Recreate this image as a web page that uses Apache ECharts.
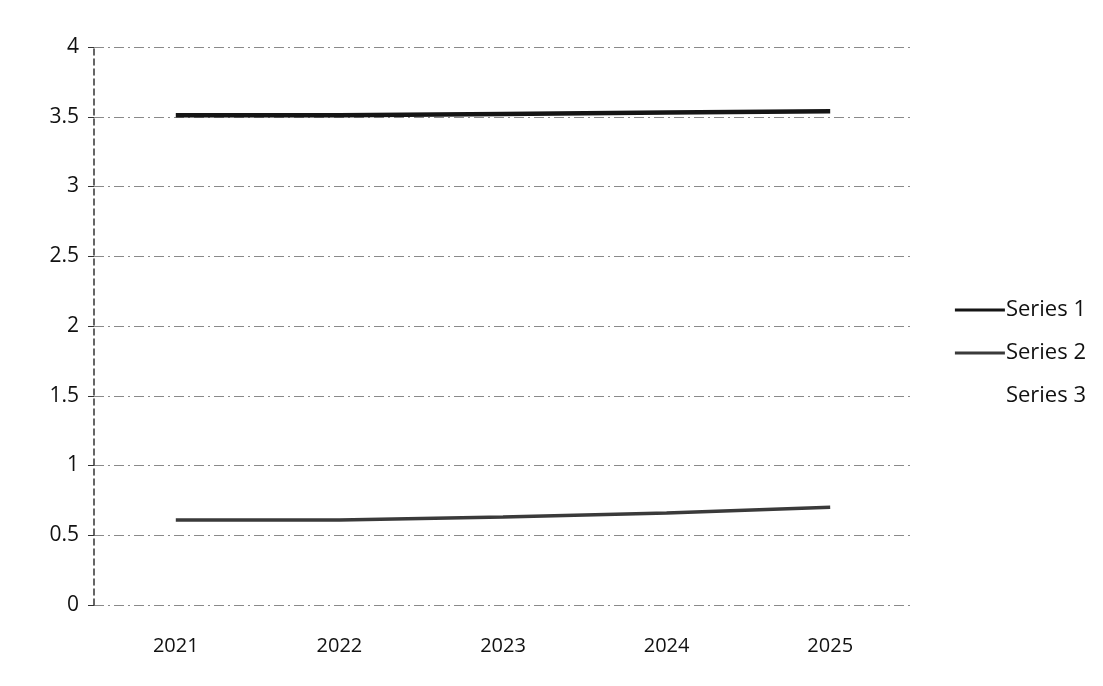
<!DOCTYPE html>
<html>
<head>
<meta charset="utf-8">
<script src="https://cdn.jsdelivr.net/npm/echarts@6/dist/echarts.min.js"></script>
<style>
html,body{margin:0;padding:0;background:#fff;}
#c{width:1103px;height:686px;}
</style>
</head>
<body>
<div id="c"></div>
<script>
const categories = ['2021', '2022', '2023', '2024', '2025'];
const series1 = [3.51, 3.51, 3.52, 3.53, 3.54];
const series2 = [0.61, 0.61, 0.63, 0.66, 0.70];
const series3 = [null, null, null, null, null];
const yTicks = [0, 0.5, 1, 1.5, 2, 2.5, 3, 3.5, 4];

const chart = echarts.init(document.getElementById('c'));
const font = 'Open Sans, Noto Sans, sans-serif';
chart.setOption({
  backgroundColor: '#ffffff',
  animation: false,
  grid: { left: 94, right: 191, top: 47, bottom: 81, containLabel: false },
  legend: {
    orient: 'vertical',
    right: 12,
    top: 294,
    itemGap: 21,
    itemWidth: 50,
    itemHeight: 3,
    icon: 'rect',
    textStyle: { fontFamily: font, fontSize: 22, color: '#111', padding: [0, 0, 0, -4] },
    data: ['Series 1', 'Series 2', 'Series 3']
  },
  xAxis: {
    type: 'category',
    data: categories,
    boundaryGap: true,
    axisLine: { show: false },
    axisTick: { show: false },
    axisLabel: { fontFamily: font, fontSize: 20, color: '#111', margin: 31 },
    splitLine: { show: false }
  },
  yAxis: {
    type: 'value',
    min: 0, max: 4, interval: 0.5,
    axisLine: { show: true, lineStyle: { color: '#333', type: [6, 4], width: 1.5 } },
    axisTick: { show: true, length: 6, lineStyle: { color: '#333' } },
    axisLabel: {
      fontFamily: font, fontSize: 21, color: '#111', margin: 15,
      formatter: v => yTicks.includes(v) ? String(v) : ''
    },
    splitLine: { show: true, lineStyle: { color: '#8a8a8a', type: [10, 4, 2, 4], width: 1 } }
  },
  series: [
    {
      name: 'Series 1', type: 'line', data: series1,
      symbol: 'none', smooth: false,
      lineStyle: { color: '#151515', width: 4.5 },
      itemStyle: { color: '#151515' }
    },
    {
      name: 'Series 2', type: 'line', data: series2,
      symbol: 'none',
      lineStyle: { color: '#3a3a3a', width: 3.5 },
      itemStyle: { color: '#3a3a3a' }
    },
    {
      name: 'Series 3', type: 'line', data: series3,
      symbol: 'none',
      lineStyle: { color: 'rgba(0,0,0,0)', width: 0 },
      itemStyle: { color: 'rgba(0,0,0,0)' }
    }
  ]
});
</script>
</body>
</html>
